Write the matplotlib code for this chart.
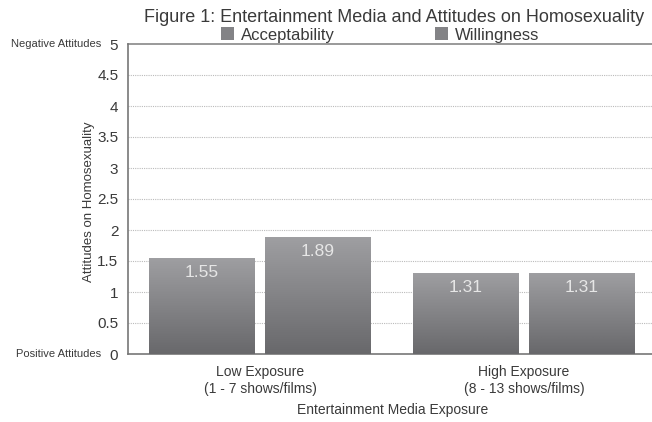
import numpy as np
import matplotlib
matplotlib.use("Agg")
import matplotlib.pyplot as plt

plt.rcParams["font.family"] = ["Liberation Sans", "DejaVu Sans"]

GROUPS = ["Low Exposure\n(1 - 7 shows/films)", "High Exposure\n(8 - 13 shows/films)"]
SERIES = ["Acceptability", "Willingness"]
ACCEPTABILITY = [1.55, 1.31]
WILLINGNESS = [1.89, 1.31]
Y_TICKS = [0, 0.5, 1, 1.5, 2, 2.5, 3, 3.5, 4, 4.5, 5]
Y_TICK_LABELS = ["0", "0.5", "1", "1.5", "2", "2.5", "3", "3.5", "4", "4.5", "5"]

TEXT = "#3a3a3a"

fig = plt.figure(figsize=(6.52, 4.22), dpi=100)
ax = fig.add_axes([128 / 652, 1 - 354 / 422, 1 - 128 / 652, 310 / 422])

x = np.arange(len(GROUPS))
offset = 0.22
width = 0.40
grad = np.linspace(0, 1, 256).reshape(-1, 1)
cmap = matplotlib.colors.LinearSegmentedColormap.from_list("g", ["#9f9fa2", "#68686b"])

for values, shift, label in [(ACCEPTABILITY, -offset, SERIES[0]), (WILLINGNESS, offset, SERIES[1])]:
    bars = ax.bar(x + shift, values, width=width, color="#838386", label=label, zorder=2)
    for bar, v in zip(bars, values):
        x0, y0 = bar.get_x(), bar.get_y()
        im = ax.imshow(grad, extent=[x0, x0 + bar.get_width(), y0, y0 + bar.get_height()],
                       cmap=cmap, aspect="auto", origin="upper", zorder=3)
        im.set_clip_path(bar)
        ax.text(bar.get_x() + bar.get_width() / 2, v - 0.23, f"{v:.2f}",
                ha="center", va="center", color="#e6e6e6", fontsize=12.5, zorder=4)

ax.set_xlim(-0.5, 1.485)
ax.set_ylim(0, 5)
ax.set_yticks(Y_TICKS)
ax.set_yticklabels(Y_TICK_LABELS, fontsize=11, color=TEXT)
ax.set_xticks(x)
ax.set_xticklabels(GROUPS, fontsize=10, color=TEXT, linespacing=1.25)
ax.tick_params(axis="y", length=0, pad=7)
ax.tick_params(axis="x", length=0, pad=8)
for y in Y_TICKS[1:-1]:
    ax.axhline(y, color="#bbbbbb", linestyle=(0, (1, 1)), linewidth=0.8, zorder=1)
ax.axhline(5, color="#888888", linewidth=1.2, zorder=1, clip_on=False)
for s in ["top", "right"]:
    ax.spines[s].set_visible(False)
for s in ["left", "bottom"]:
    ax.spines[s].set_color("#777777")
    ax.spines[s].set_linewidth(1.2)

fig.text(101 / 652, 1 - 44 / 422, "Negative Attitudes", ha="right", va="center", fontsize=8, color=TEXT)
fig.text(101 / 652, 1 - 354 / 422, "Positive Attitudes", ha="right", va="center", fontsize=8, color=TEXT)
fig.text(89 / 652, 1 - 202 / 422, "Attitudes on Homosexuality", rotation=90,
         ha="center", va="center", fontsize=9.5, color=TEXT)
fig.text(393 / 652, 1 - 410 / 422, "Entertainment Media Exposure", ha="center", va="center",
         fontsize=10, color=TEXT)
fig.text(394 / 652, 1 - 18 / 422, "Figure 1: Entertainment Media and Attitudes on Homosexuality",
         ha="center", va="center", fontsize=13, color=TEXT)

fig.legend(loc="center", bbox_to_anchor=(380 / 652, 1 - 35 / 422), ncol=2, frameon=False,
           fontsize=12, handlelength=0.8, handleheight=0.8, columnspacing=6.0,
           handletextpad=0.4, labelcolor=TEXT)

fig.savefig("out.png", dpi=100)
